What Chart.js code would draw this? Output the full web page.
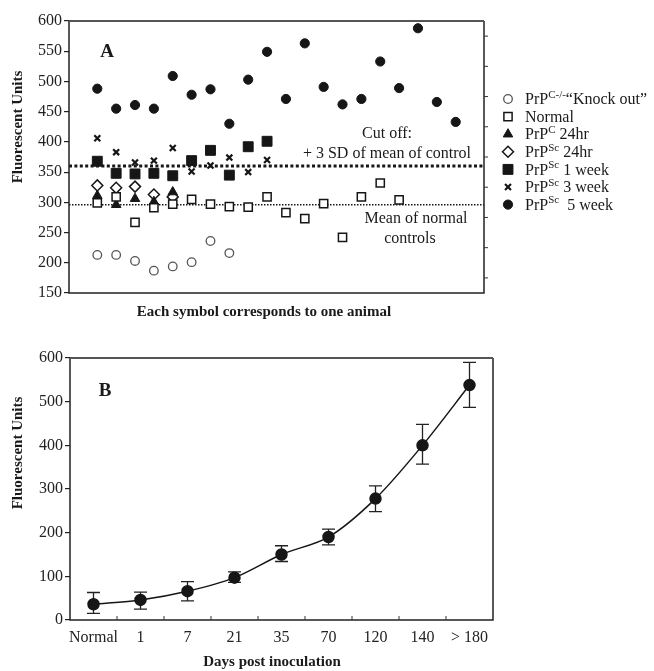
<!DOCTYPE html>
<html>
<head>
<meta charset="utf-8">
<script src="https://cdn.jsdelivr.net/npm/chart.js@4/dist/chart.umd.min.js"></script>
<style>
  html, body { margin: 0; padding: 0; background: #fff; }
  .panel { position: absolute; left: 0; width: 654px; }
  #wrapA { top: 0; height: 320px; }
  #wrapB { top: 320px; height: 351px; }
</style>
</head>
<body>
<div class="panel" id="wrapA"><canvas id="chartA" width="654" height="320"></canvas></div>
<div class="panel" id="wrapB"><canvas id="chartB" width="654" height="351"></canvas></div>
<script>
'use strict';

// ── Panel A: one value per animal ───────────────────────────────
var knockOut  = [213, 213, 203, 187, 194, 201, 236, 216];
var normal    = [299, 309, 267, 291, 297, 305, 297, 293, 292, 309, 283, 273, 298, 242, 309, 332, 304];
var prpC24hr  = [311, 296, 306, 301, 317];
var prpSc24hr = [328, 324, 326, 313, 309];
var prpSc1wk  = [368, 348, 347, 348, 344, 369, 386, 345, 392, 401];
var prpSc3wk  = [406, 383, 366, 369, 390, 351, 361, 374, 350, 370];
var prpSc5wk  = [488, 455, 461, 455, 509, 478, 487, 430, 503, 549, 471, 563, 491, 462, 471, 533, 489, 588, 466, 433];

var CUT_OFF     = 360;   // + 3 SD of mean of control
var MEAN_NORMAL = 296;

// ── Panel B: group means with error bars ────────────────────────
var dayLabels = ['Normal', '1', '7', '21', '35', '70', '120', '140', '> 180'];
var dayMeans  = [36, 46, 66, 97, 150, 190, 278, 400, 538];
var dayUpper  = [63, 64, 88, 110, 170, 208, 307, 448, 590];
var dayLower  = [15, 25, 44, 86, 134, 172, 248, 357, 487];

var SERIF = '"Liberation Serif", "Times New Roman", serif';
var INK = '#161616';

Chart.defaults.font.family = SERIF;
Chart.defaults.color = '#222';

// marker look per group (also used for the legend)
var groups = [
  { label: [['PrP'], ['C-/-', 1], ['\u201CKnock out\u201D']], values: knockOut,
    style: 'circle', radius: 4.3, fill: '#fff', stroke: '#555', width: 1.3 },
  { label: [['Normal']], values: normal,
    style: 'rect', radius: 5.8, fill: '#fff', stroke: INK, width: 1.5 },
  { label: [['PrP'], ['C', 1], [' 24hr']], values: prpC24hr,
    style: 'triangle', radius: 5.5, fill: INK, stroke: INK, width: 1 },
  { label: [['PrP'], ['Sc', 1], [' 24hr']], values: prpSc24hr,
    style: 'rectRot', radius: 5.5, fill: '#fff', stroke: INK, width: 1.5 },
  { label: [['PrP'], ['Sc', 1], [' 1 week']], values: prpSc1wk,
    style: 'rect', radius: 7, fill: INK, stroke: INK, width: 1 },
  { label: [['PrP'], ['Sc', 1], [' 3 week']], values: prpSc3wk,
    style: 'crossRot', radius: 4.2, fill: INK, stroke: INK, width: 2.2 },
  { label: [['PrP'], ['Sc', 1], ['  5 week']], values: prpSc5wk,
    style: 'circle', radius: 4.6, fill: INK, stroke: INK, width: 1 }
];

function toPoints(values) {
  return values.map(function (v, i) { return { x: i + 1, y: v }; });
}

function hLine(y, dash, width) {
  return {
    data: [{ x: -0.5, y: y }, { x: 21.5, y: y }],
    showLine: true, pointRadius: 0, borderColor: INK,
    borderWidth: width, borderDash: dash, order: 10
  };
}

function drawMarker(ctx, g, x, y) {
  ctx.save();
  ctx.fillStyle = g.fill;
  ctx.strokeStyle = g.stroke;
  ctx.lineWidth = g.width;
  if (Chart.helpers && Chart.helpers.drawPoint) {
    Chart.helpers.drawPoint(ctx, { pointStyle: g.style, radius: g.radius, borderWidth: g.width, rotation: 0 }, x, y);
  } else {
    ctx.beginPath();
    ctx.arc(x, y, g.radius, 0, Math.PI * 2);
    ctx.fill();
    ctx.stroke();
  }
  ctx.restore();
}

// text with superscript parts: [[text], [text, isSup], ...]
function drawRich(ctx, parts, x, y, size) {
  var cx = x;
  for (var i = 0; i < parts.length; i++) {
    var sup = !!parts[i][1];
    ctx.font = (sup ? Math.round(size * 0.68) : size) + 'px ' + SERIF;
    ctx.fillText(parts[i][0], cx, sup ? y - size * 0.32 : y);
    cx += ctx.measureText(parts[i][0]).width;
  }
}

function text(ctx, str, x, y, font, rotate) {
  ctx.save();
  ctx.font = font;
  ctx.textAlign = 'center';
  ctx.textBaseline = 'middle';
  ctx.fillStyle = '#1a1a1a';
  ctx.translate(x, y);
  if (rotate) ctx.rotate(-Math.PI / 2);
  ctx.fillText(str, 0, 0);
  ctx.restore();
}

function drawFrame(chart) {
  var a = chart.chartArea, ctx = chart.ctx;
  ctx.save();
  ctx.strokeStyle = '#222';
  ctx.lineWidth = 1.5;
  ctx.beginPath();
  ctx.moveTo(a.left, a.top); ctx.lineTo(a.left, a.bottom); ctx.lineTo(a.right, a.bottom); ctx.lineTo(a.right, a.top);
  ctx.stroke();
  ctx.strokeStyle = '#555';
  ctx.lineWidth = 2.2;
  ctx.beginPath();
  ctx.moveTo(a.left, a.top); ctx.lineTo(a.right, a.top);
  ctx.stroke();
  ctx.restore();
}

// ── Chart A ─────────────────────────────────────────────────────

var decorA = {
  id: 'decorA',
  afterDraw: function (chart) {
    var ctx = chart.ctx, a = chart.chartArea, ys = chart.scales.y;
    drawFrame(chart);

    // small ticks on the right border
    ctx.save();
    ctx.strokeStyle = '#333';
    ctx.lineWidth = 1;
    for (var v = 575; v > 150; v -= 50) {
      var py = ys.getPixelForValue(v);
      ctx.beginPath(); ctx.moveTo(a.right, py); ctx.lineTo(a.right + 4, py); ctx.stroke();
    }
    ctx.restore();

    text(ctx, 'A', 107, 52, 'bold 19px ' + SERIF);
    text(ctx, 'Fluorescent Units', 18, 127, 'bold 15px ' + SERIF, true);
    text(ctx, 'Each symbol corresponds to one animal', 264, 312, 'bold 15px ' + SERIF);

    var yCut = ys.getPixelForValue(CUT_OFF), yMean = ys.getPixelForValue(MEAN_NORMAL);
    text(ctx, 'Cut off:', 387, yCut - 32, '16px ' + SERIF);
    text(ctx, '+ 3 SD of mean of control', 387, yCut - 12, '16px ' + SERIF);
    text(ctx, 'Mean of normal', 416, yMean + 14, '16px ' + SERIF);
    text(ctx, 'controls', 410, yMean + 34, '16px ' + SERIF);

    // legend
    ctx.save();
    ctx.textBaseline = 'middle';
    for (var i = 0; i < groups.length; i++) {
      var ly = 99 + i * 17.6;
      drawMarker(ctx, groups[i], 508, ly);
      ctx.fillStyle = '#1a1a1a';
      drawRich(ctx, groups[i].label, 525, ly + 1, 16);
    }
    ctx.restore();
  }
};

var datasetsA = groups.map(function (g) {
  return {
    data: toPoints(g.values),
    pointStyle: g.style, pointRadius: g.radius,
    pointBackgroundColor: g.fill, pointBorderColor: g.stroke, pointBorderWidth: g.width,
    order: 1
  };
});
datasetsA.push(hLine(CUT_OFF, [3, 2.4], 3));
datasetsA.push(hLine(MEAN_NORMAL, [1.5, 1.5], 1.5));

new Chart(document.getElementById('chartA').getContext('2d'), {
  type: 'scatter',
  data: { datasets: datasetsA },
  options: {
    responsive: false,
    animation: false,
    layout: { padding: { left: 9, right: 170, top: 21, bottom: 0 } },
    plugins: { legend: { display: false }, tooltip: { enabled: false } },
    scales: {
      x: {
        type: 'linear', min: -0.5, max: 21.5,
        ticks: { display: false },
        grid: { display: false },
        border: { display: false },
        afterFit: function (s) { s.height = 27; }
      },
      y: {
        min: 150, max: 600,
        ticks: {
          stepSize: 25, padding: 2, color: '#222', font: { size: 16 },
          callback: function (v) { return v % 50 === 0 ? String(v) : ''; }
        },
        grid: { drawOnChartArea: false, drawTicks: true, tickLength: 5, color: '#222', lineWidth: 1.2 },
        border: { display: false },
        afterFit: function (s) { s.width = 60; }
      }
    }
  },
  plugins: [decorA]
});

// ── Chart B ─────────────────────────────────────────────────────

var errorBars = {
  id: 'errorBars',
  beforeDatasetsDraw: function (chart) {
    var ctx = chart.ctx, xs = chart.scales.x, ys = chart.scales.y;
    ctx.save();
    ctx.strokeStyle = '#222';
    ctx.lineWidth = 1.3;
    for (var i = 0; i < dayMeans.length; i++) {
      var px = xs.getPixelForValue(i);
      var top = ys.getPixelForValue(dayUpper[i]), bot = ys.getPixelForValue(dayLower[i]);
      ctx.beginPath();
      ctx.moveTo(px, top); ctx.lineTo(px, bot);
      ctx.moveTo(px - 6.5, top); ctx.lineTo(px + 6.5, top);
      ctx.moveTo(px - 6.5, bot); ctx.lineTo(px + 6.5, bot);
      ctx.stroke();
    }
    ctx.restore();
  }
};

var decorB = {
  id: 'decorB',
  afterDraw: function (chart) {
    var ctx = chart.ctx, a = chart.chartArea, xs = chart.scales.x;
    drawFrame(chart);

    // inward ticks between the day groups
    ctx.save();
    ctx.strokeStyle = '#333';
    ctx.lineWidth = 1;
    for (var i = 0; i < dayLabels.length - 1; i++) {
      var px = (xs.getPixelForValue(i) + xs.getPixelForValue(i + 1)) / 2;
      ctx.beginPath(); ctx.moveTo(px, a.bottom); ctx.lineTo(px, a.bottom - 4); ctx.stroke();
    }
    ctx.restore();

    text(ctx, 'B', 105, 71, 'bold 19px ' + SERIF);
    text(ctx, 'Fluorescent Units', 18, 133, 'bold 15px ' + SERIF, true);
    text(ctx, 'Days post inoculation', 272, 342, 'bold 15px ' + SERIF);
  }
};

new Chart(document.getElementById('chartB').getContext('2d'), {
  type: 'line',
  data: {
    labels: dayLabels,
    datasets: [{
      data: dayMeans,
      borderColor: INK,
      borderWidth: 1.5,
      tension: 0.3,
      fill: false,
      pointRadius: 5.5,
      pointBackgroundColor: INK,
      pointBorderColor: INK
    }]
  },
  options: {
    responsive: false,
    animation: false,
    layout: { padding: { left: 10, right: 161, top: 38, bottom: 0 } },
    plugins: { legend: { display: false }, tooltip: { enabled: false } },
    scales: {
      x: {
        type: 'category', offset: true,
        ticks: { padding: 0, color: '#222', font: { size: 16 }, maxRotation: 0, autoSkip: false },
        grid: { display: false },
        border: { display: false },
        afterFit: function (s) { s.height = 51; }
      },
      y: {
        min: 0, max: 600,
        ticks: { stepSize: 100, padding: 2, color: '#222', font: { size: 16 } },
        grid: { drawOnChartArea: false, drawTicks: true, tickLength: 5, color: '#222', lineWidth: 1.2 },
        border: { display: false },
        afterFit: function (s) { s.width = 60; }
      }
    }
  },
  plugins: [errorBars, decorB]
});
</script>
</body>
</html>
